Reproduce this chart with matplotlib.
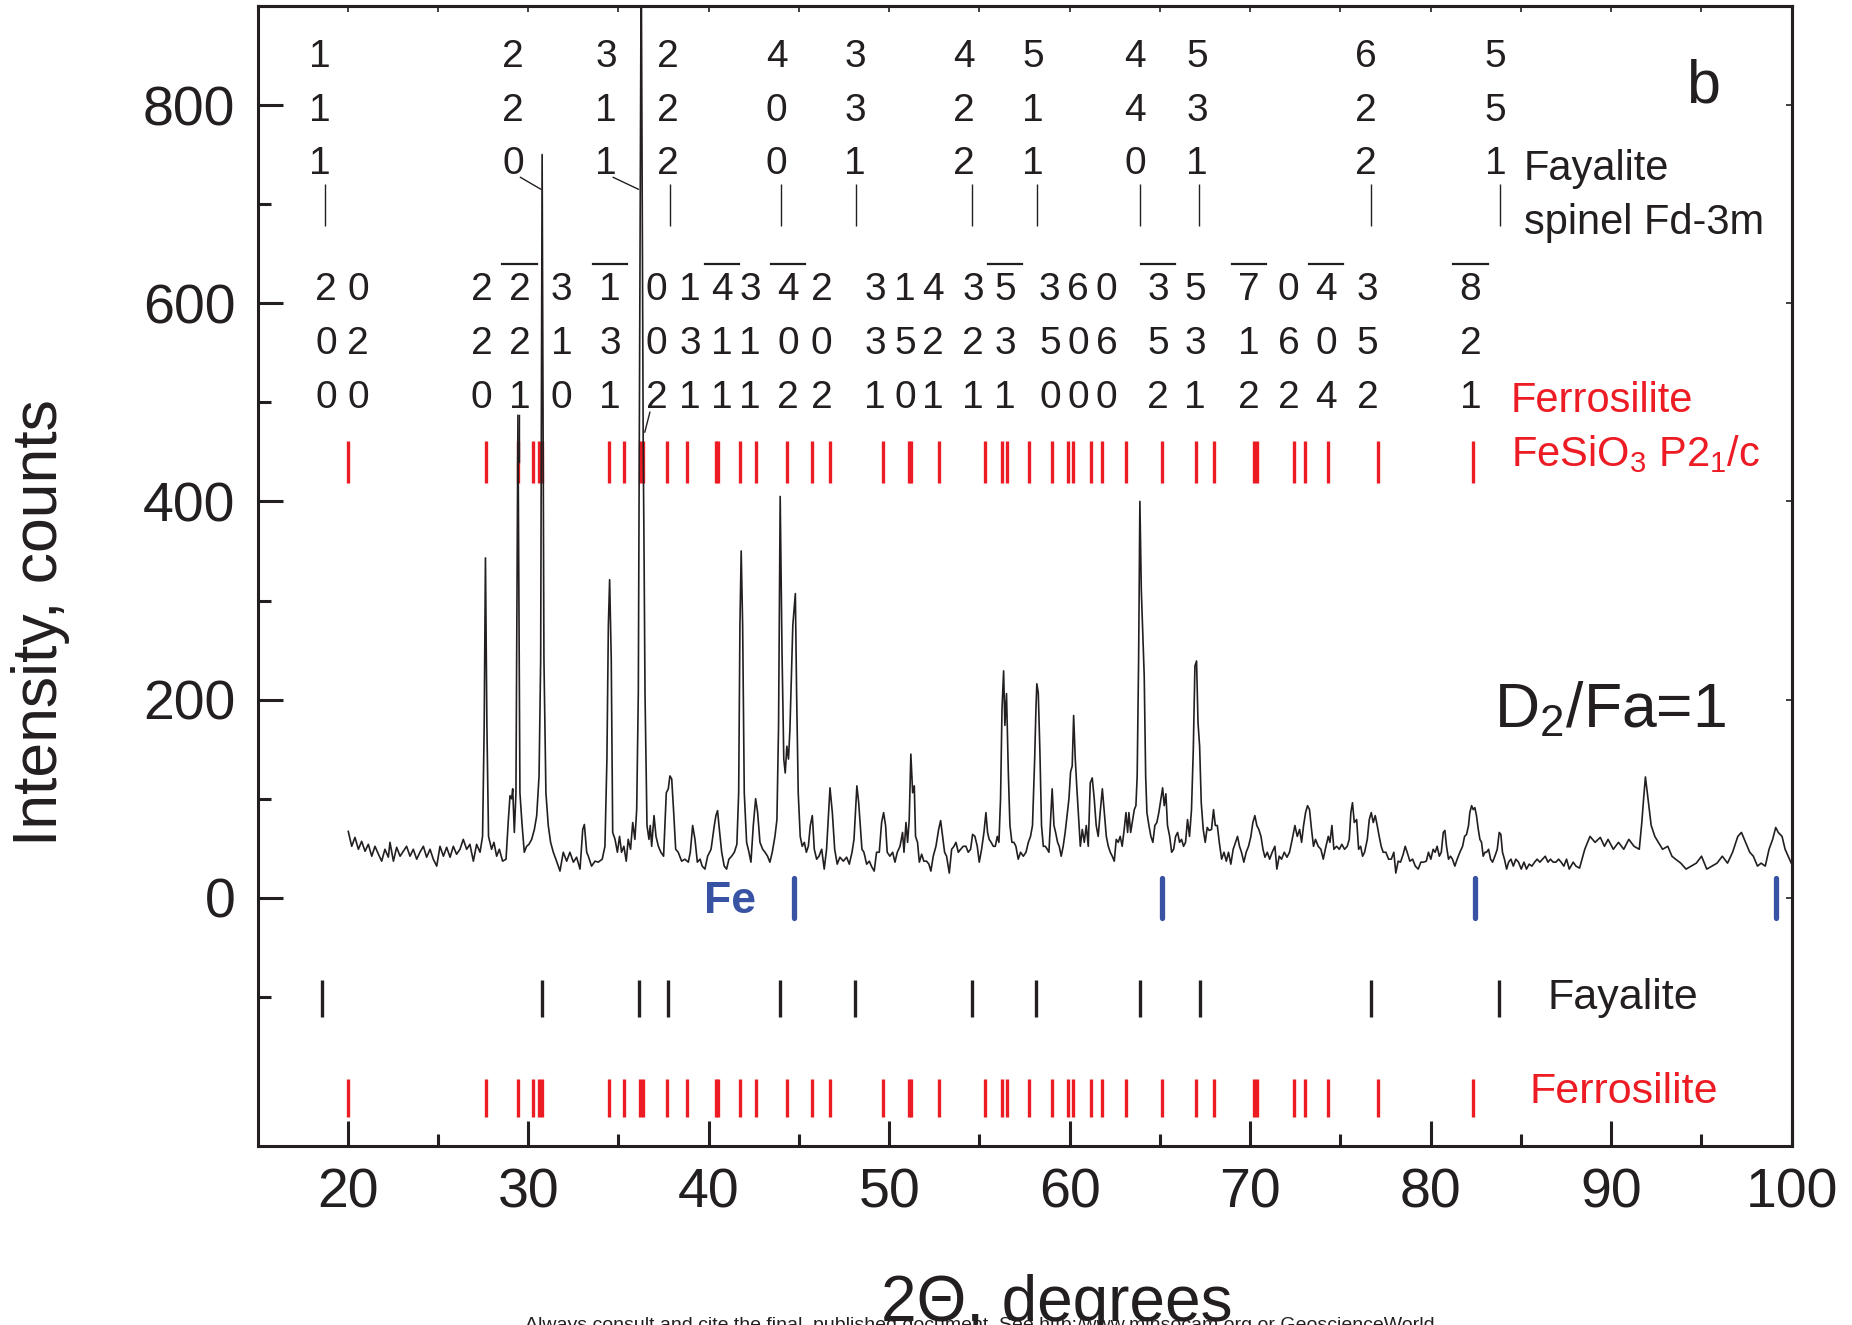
import numpy as np
import matplotlib
matplotlib.use('Agg')
import matplotlib.pyplot as plt
from matplotlib.ticker import FixedLocator, NullFormatter

plt.rcParams['font.family'] = ['Liberation Sans', 'DejaVu Sans']
plt.rcParams['mathtext.fontset'] = 'custom'
plt.rcParams['mathtext.rm'] = 'Liberation Sans'
plt.rcParams['mathtext.it'] = 'Liberation Sans:italic'

# ---------------- data ----------------
two_theta = [
    20.03, 20.22, 20.40, 20.59, 20.77, 20.96, 21.14, 21.33, 21.51, 21.70, 21.88, 22.06, 22.25, 22.34, 22.53,
    22.71, 22.90, 23.08, 23.26, 23.45, 23.63, 23.82, 24.00, 24.19, 24.37, 24.56, 24.74, 24.93, 25.11, 25.30,
    25.48, 25.67, 25.85, 26.03, 26.22, 26.40, 26.59, 26.77, 26.96, 27.14, 27.33, 27.47, 27.56, 27.63, 27.71,
    27.80, 27.97, 28.10, 28.25, 28.40, 28.58, 28.77, 28.90, 28.99, 29.08, 29.14, 29.23, 29.32, 29.43, 29.54,
    29.65, 29.78, 29.91, 30.04, 30.19, 30.34, 30.47, 30.60, 30.69, 30.77, 30.87, 30.98, 31.11, 31.24, 31.39,
    31.57, 31.76, 31.94, 32.13, 32.31, 32.50, 32.68, 32.87, 33.02, 33.11, 33.24, 33.33, 33.51, 33.70, 33.88,
    34.10, 34.25, 34.36, 34.44, 34.51, 34.60, 34.68, 34.81, 34.94, 35.06, 35.17, 35.30, 35.43, 35.54, 35.67,
    35.79, 35.91, 36.01, 36.10, 36.13, 36.16, 36.26, 36.37, 36.42, 36.47, 36.58, 36.69, 36.76, 36.84, 36.97,
    37.08, 37.21, 37.35, 37.50, 37.65, 37.76, 37.85, 37.95, 38.06, 38.17, 38.31, 38.50, 38.68, 38.87, 38.98,
    39.11, 39.24, 39.37, 39.52, 39.64, 39.79, 39.94, 40.13, 40.31, 40.40, 40.49, 40.59, 40.72, 40.86, 40.99,
    41.12, 41.27, 41.42, 41.56, 41.66, 41.73, 41.80, 41.88, 41.97, 42.10, 42.23, 42.34, 42.47, 42.60, 42.71,
    42.84, 42.99, 43.12, 43.26, 43.39, 43.52, 43.67, 43.78, 43.87, 43.96, 44.06, 44.16, 44.24, 44.33, 44.42,
    44.50, 44.58, 44.66, 44.80, 44.87, 44.96, 45.07, 45.18, 45.30, 45.41, 45.52, 45.63, 45.74, 45.85, 45.98,
    46.11, 46.26, 46.40, 46.53, 46.62, 46.72, 46.85, 46.98, 47.12, 47.27, 47.46, 47.64, 47.79, 47.94, 48.05,
    48.14, 48.21, 48.31, 48.40, 48.49, 48.60, 48.75, 48.90, 49.04, 49.17, 49.30, 49.45, 49.58, 49.69, 49.80,
    49.89, 50.04, 50.19, 50.32, 50.45, 50.60, 50.74, 50.82, 50.93, 51.02, 51.11, 51.20, 51.30, 51.39, 51.46,
    51.57, 51.67, 51.80, 51.92, 52.07, 52.20, 52.31, 52.44, 52.59, 52.74, 52.85, 52.96, 53.07, 53.18, 53.33,
    53.46, 53.59, 53.70, 53.83, 53.96, 54.10, 54.25, 54.38, 54.51, 54.62, 54.75, 54.88, 54.99, 55.12, 55.25,
    55.36, 55.45, 55.54, 55.65, 55.77, 55.88, 55.99, 56.08, 56.17, 56.25, 56.34, 56.41, 56.50, 56.60, 56.69,
    56.80, 56.91, 57.02, 57.15, 57.28, 57.43, 57.58, 57.71, 57.83, 57.94, 58.06, 58.13, 58.18, 58.26, 58.35,
    58.44, 58.54, 58.65, 58.76, 58.85, 58.94, 59.03, 59.13, 59.22, 59.33, 59.42, 59.53, 59.64, 59.75, 59.87,
    59.96, 60.05, 60.14, 60.22, 60.31, 60.40, 60.48, 60.59, 60.70, 60.81, 60.92, 61.03, 61.14, 61.25, 61.36,
    61.47, 61.58, 61.69, 61.81, 61.92, 62.03, 62.14, 62.25, 62.36, 62.47, 62.58, 62.69, 62.80, 62.91, 63.02,
    63.12, 63.21, 63.28, 63.38, 63.49, 63.58, 63.67, 63.74, 63.82, 63.89, 63.97, 64.06, 64.13, 64.21, 64.28,
    64.39, 64.50, 64.61, 64.72, 64.83, 64.94, 65.06, 65.15, 65.24, 65.33, 65.42, 65.54, 65.65, 65.76, 65.87,
    65.98, 66.09, 66.20, 66.31, 66.42, 66.53, 66.64, 66.75, 66.85, 66.94, 67.03, 67.11, 67.20, 67.29, 67.40,
    67.51, 67.62, 67.73, 67.86, 67.97, 68.07, 68.18, 68.29, 68.42, 68.55, 68.68, 68.80, 68.93, 69.06, 69.19,
    69.30, 69.41, 69.52, 69.65, 69.78, 69.91, 70.04, 70.15, 70.26, 70.37, 70.48, 70.60, 70.71, 70.82, 70.95,
    71.08, 71.22, 71.37, 71.48, 71.61, 71.74, 71.89, 72.04, 72.18, 72.33, 72.48, 72.61, 72.74, 72.85, 72.96,
    73.07, 73.18, 73.29, 73.40, 73.51, 73.62, 73.77, 73.92, 74.05, 74.20, 74.33, 74.42, 74.53, 74.64, 74.79,
    74.94, 75.08, 75.23, 75.38, 75.49, 75.58, 75.67, 75.77, 75.90, 76.01, 76.12, 76.23, 76.34, 76.49, 76.60,
    76.71, 76.82, 76.93, 77.04, 77.15, 77.26, 77.37, 77.52, 77.67, 77.82, 77.96, 78.07, 78.20, 78.33, 78.48,
    78.59, 78.70, 78.85, 79.00, 79.15, 79.31, 79.46, 79.61, 79.76, 79.88, 80.01, 80.14, 80.25, 80.36, 80.48,
    80.59, 80.70, 80.79, 80.88, 80.99, 81.10, 81.21, 81.34, 81.47, 81.62, 81.77, 81.88, 81.99, 82.10, 82.17,
    82.27, 82.36, 82.45, 82.54, 82.64, 82.73, 82.82, 82.91, 83.01, 83.10, 83.21, 83.32, 83.43, 83.56, 83.69,
    83.80, 83.89, 83.98, 84.09, 84.21, 84.32, 84.45, 84.58, 84.72, 84.87, 85.02, 85.17, 85.31, 85.46, 85.61,
    85.76, 85.90, 86.05, 86.20, 86.35, 86.50, 86.64, 86.79, 86.94, 87.09, 87.23, 87.38, 87.53, 87.68, 87.90,
    88.05, 88.25, 88.54, 88.83, 89.11, 89.40, 89.63, 89.83, 90.12, 90.41, 90.70, 90.98, 91.27, 91.56, 91.70,
    91.80, 91.90, 92.05, 92.22, 92.42, 92.62, 92.85, 93.14, 93.37, 93.57, 93.86, 94.15, 94.43, 94.72, 95.01,
    95.30, 95.58, 95.87, 96.16, 96.45, 96.73, 97.02, 97.22, 97.45, 97.68, 97.88, 98.11, 98.31, 98.54, 98.75,
    98.95, 99.12, 99.26, 99.47, 99.64, 99.81, 99.98,
]
intensity = [
    67, 52, 61, 49, 57, 47, 54, 42, 52, 44, 37, 49, 41, 56, 37,
    51, 42, 47, 52, 42, 49, 39, 46, 52, 41, 49, 39, 32, 52, 42,
    51, 41, 52, 44, 49, 59, 49, 54, 37, 54, 46, 62, 174, 343, 174,
    62, 49, 56, 42, 49, 37, 39, 79, 103, 100, 110, 66, 106, 487, 106,
    76, 46, 52, 54, 59, 69, 83, 123, 241, 750, 241, 106, 73, 56, 46,
    37, 27, 46, 37, 46, 36, 41, 29, 69, 74, 46, 42, 32, 37, 36,
    39, 52, 140, 275, 321, 241, 66, 59, 46, 62, 46, 52, 37, 59, 49,
    76, 59, 89, 207, 342, 460, 960, 460, 342, 207, 73, 59, 73, 52, 83,
    62, 52, 46, 42, 106, 110, 123, 120, 86, 49, 46, 37, 39, 36, 46,
    73, 59, 36, 39, 32, 29, 42, 49, 73, 83, 88, 69, 46, 32, 29,
    39, 42, 46, 54, 106, 275, 350, 275, 106, 56, 46, 36, 73, 100, 86,
    56, 49, 46, 42, 36, 46, 62, 79, 174, 405, 250, 140, 126, 153, 140,
    170, 221, 275, 307, 207, 106, 62, 52, 56, 46, 52, 73, 83, 49, 39,
    42, 49, 29, 49, 79, 111, 86, 49, 34, 41, 37, 41, 34, 46, 59,
    89, 113, 96, 73, 49, 46, 34, 37, 31, 27, 46, 46, 76, 86, 73,
    46, 42, 46, 36, 46, 52, 66, 46, 76, 56, 79, 145, 106, 113, 62,
    56, 36, 44, 37, 37, 34, 27, 42, 52, 69, 78, 62, 46, 42, 25,
    49, 52, 56, 46, 49, 52, 52, 46, 49, 64, 62, 52, 36, 49, 66,
    86, 66, 59, 56, 52, 52, 62, 56, 100, 190, 229, 174, 206, 127, 73,
    56, 56, 52, 39, 46, 42, 46, 56, 62, 73, 140, 190, 216, 207, 148,
    73, 52, 52, 49, 46, 79, 110, 73, 66, 56, 52, 42, 52, 66, 86,
    100, 127, 133, 184, 140, 110, 86, 52, 69, 56, 73, 52, 116, 121, 100,
    73, 62, 86, 110, 86, 62, 52, 46, 42, 37, 59, 56, 62, 52, 69,
    86, 66, 86, 66, 79, 89, 93, 123, 241, 400, 310, 261, 224, 123, 86,
    73, 62, 56, 73, 76, 86, 100, 111, 93, 105, 73, 62, 46, 49, 62,
    66, 56, 59, 52, 56, 79, 62, 89, 150, 234, 239, 177, 153, 96, 69,
    56, 71, 68, 69, 89, 73, 73, 56, 39, 46, 37, 46, 34, 49, 56,
    62, 52, 46, 36, 46, 52, 62, 76, 83, 73, 69, 62, 49, 41, 46,
    39, 46, 52, 29, 42, 39, 46, 41, 46, 59, 73, 62, 69, 56, 73,
    86, 93, 89, 69, 52, 59, 52, 49, 39, 52, 62, 56, 73, 49, 52,
    49, 54, 49, 52, 59, 86, 96, 76, 79, 49, 52, 42, 46, 59, 79,
    86, 76, 83, 73, 62, 52, 46, 46, 39, 39, 46, 25, 37, 36, 44,
    52, 46, 37, 39, 32, 29, 36, 36, 37, 46, 39, 49, 46, 52, 42,
    46, 66, 68, 52, 39, 42, 39, 32, 39, 46, 52, 62, 64, 73, 86,
    93, 89, 91, 83, 69, 59, 56, 42, 46, 46, 49, 39, 36, 42, 49,
    66, 64, 46, 39, 29, 36, 39, 32, 39, 36, 29, 36, 29, 34, 32,
    36, 39, 36, 39, 42, 36, 39, 36, 36, 39, 36, 32, 39, 29, 36,
    32, 30, 49, 62, 56, 61, 52, 59, 49, 56, 49, 59, 52, 49, 76,
    100, 122, 99, 73, 62, 56, 49, 52, 42, 39, 35, 29, 32, 35, 42,
    29, 32, 35, 42, 35, 46, 62, 66, 56, 46, 42, 32, 35, 32, 49,
    59, 71, 66, 62, 49, 42, 35,
]

# reference-pattern positions (2-theta, degrees)
spinel_hkl = ['111', '220', '311', '222', '400', '331', '422', '511', '440', '531', '622', '551']
spinel_label_x = [18.46, 29.17, 34.31, 37.72, 43.76, 48.10, 54.14, 57.98, 63.61, 67.07, 76.43, 83.60]
spinel_top_ticks = [18.72, 37.85, 43.99, 48.16, 54.58, 58.17, 63.89, 67.18, 76.72, 83.85]
fayalite_pos = [18.60, 30.75, 36.15, 37.75, 43.95, 48.10, 54.60, 58.15, 63.90, 67.20, 76.70, 83.80]

ferrosilite_pos = [20.03, 27.64, 29.45, 30.28, 30.61, 30.76, 34.47, 35.31, 36.19, 36.37, 37.67, 38.80,
                   40.38, 40.50, 41.73, 42.62, 44.35, 45.70, 46.72, 49.64, 51.11, 51.19, 52.77, 55.31,
                   56.26, 56.51, 57.76, 59.03, 59.92, 60.20, 61.16, 61.77, 63.10, 65.09, 66.98, 67.99,
                   70.22, 70.39, 72.44, 73.06, 74.30, 77.09, 82.36]
ferro_hkl = ['200', '020', '220', '-221', '310', '-131', '002', '131', '-411', '311', '-402', '202',
             '331', '150', '421', '321', '-531', '350', '600', '060', '-352', '531', '-712', '062',
             '-404', '352', '-821']
ferro_label_x = [18.80, 20.58, 27.42, 29.51, 31.85, 34.53, 37.12, 38.96, 40.72, 42.29, 44.41, 46.26,
                 49.21, 50.87, 52.44, 54.66, 56.41, 58.90, 60.47, 62.05, 64.91, 66.94, 69.95, 72.13,
                 74.20, 76.51, 82.21]

fe_pos = [44.75, 65.12, 82.45, 99.15]

x_major = [20, 30, 40, 50, 60, 70, 80, 90, 100]
x_minor = [25, 35, 45, 55, 65, 75, 85, 95]
y_major = [0, 200, 400, 600, 800]
y_minor = [-100, 100, 300, 500, 700]

RED = '#ed1c24'
BLUE = '#3953a4'
BLACK = '#231f20'

# ---------------- figure ----------------
fig = plt.figure(figsize=(18.52, 13.25), dpi=100)
ax = fig.add_axes([0.13904, 0.13540, 0.82835, 0.86015])
ax.set_xlim(15, 100)
ax.set_ylim(-250, 900)

ax.plot(two_theta, intensity, color=BLACK, lw=1.2, zorder=3)

# reference tick rows
ax.vlines(ferrosilite_pos, 419, 461, colors=RED, lw=2.4)
ax.vlines(ferrosilite_pos, -221, -183, colors=RED, lw=2.4)
ax.vlines(fayalite_pos, -120, -83, colors=BLACK, lw=2.4)
ax.vlines(spinel_top_ticks, 678, 720, colors=BLACK, lw=1.0)
fe_lines = ax.vlines(fe_pos, -20, 20, colors=BLUE, lw=3.8)
fe_lines.set_capstyle('round')

# spinel hkl labels
spinel_rows = [838, 784, 730]
for x, hkl in zip(spinel_label_x, spinel_hkl):
    for r, ch in zip(spinel_rows, hkl):
        ax.text(x, r, ch, ha='center', va='baseline', fontsize=28, color=BLACK)
# leader lines for 220 and 311 to their peaks
for lx, px in [(spinel_label_x[1], fayalite_pos[1]), (spinel_label_x[2], fayalite_pos[2])]:
    ax.plot([lx + 0.4, px - 0.05], [727, 715], color=BLACK, lw=1.0)

# ferrosilite hkl labels
ferro_rows = [603, 549, 494]
for x, hkl in zip(ferro_label_x, ferro_hkl):
    bar = hkl.startswith('-')
    digits = hkl.lstrip('-')
    for r, ch in zip(ferro_rows, digits):
        ax.text(x, r, ch, ha='center', va='baseline', fontsize=28, color=BLACK)
    if bar:
        ax.plot([x - 0.95, x + 0.95], [640, 640], color=BLACK, lw=1.6)
# small leaders
ax.plot([ferro_label_x[3], ferro_label_x[3]], [487, 440], color=BLACK, lw=1.0)
ax.plot([ferro_label_x[6] - 0.38, ferro_label_x[6] - 0.66], [490, 470], color=BLACK, lw=1.0)

# annotations
ax.text(94.14, 803, 'b', fontsize=44, color=BLACK, ha='left', va='baseline')
ax.text(85.15, 724, 'Fayalite', fontsize=30, color=BLACK, ha='left', va='baseline')
ax.text(85.15, 670, 'spinel Fd-3m', fontsize=30, color=BLACK, ha='left', va='baseline')
ax.text(84.43, 490, 'Ferrosilite', fontsize=30, color=RED, ha='left', va='baseline')
ax.text(84.43, 436, r'FeSiO$_\mathregular{3}$ P2$_\mathregular{1}$/c', fontsize=30, color=RED,
        ha='left', va='baseline')
ax.text(83.5, 172, r'D$_\mathregular{2}$/Fa=1', fontsize=45, color=BLACK, ha='left', va='baseline')
ax.text(39.74, -15, 'Fe', fontsize=32, fontweight='bold', color=BLUE, ha='left', va='baseline')
ax.text(86.45, -112, 'Fayalite', fontsize=31, color=BLACK, ha='left', va='baseline')
ax.text(85.5, -207, 'Ferrosilite', fontsize=31, color=RED, ha='left', va='baseline')

# axes styling
ax.xaxis.set_major_locator(FixedLocator(x_major))
ax.xaxis.set_minor_locator(FixedLocator(x_minor))
ax.yaxis.set_major_locator(FixedLocator(y_major))
ax.yaxis.set_minor_locator(FixedLocator(y_minor))
ax.tick_params(which='major', direction='in', length=18, width=2.2, labelsize=40, pad=16,
               color=BLACK, labelcolor=BLACK)
ax.tick_params(which='minor', direction='in', length=9, width=2.2, color=BLACK)
for s in ax.spines.values():
    s.set_linewidth(2.2)
    s.set_color(BLACK)

sx = ax.secondary_xaxis('top')
sx.xaxis.set_major_locator(FixedLocator(x_major + x_minor))
sx.xaxis.set_major_formatter(NullFormatter())
sx.tick_params(direction='in', length=4, width=1.2, color=BLACK)
sx.spines['top'].set_linewidth(2.2)
sy = ax.secondary_yaxis('right')
sy.yaxis.set_major_locator(FixedLocator(y_major))
sy.yaxis.set_major_formatter(NullFormatter())
sy.tick_params(direction='in', length=4, width=1.2, color=BLACK)
sy.spines['right'].set_linewidth(2.2)

fig.text(0.0221, 0.5298, 'Intensity, counts', rotation=90, ha='center', va='center',
         fontsize=45, color=BLACK)
fig.text(0.5707, 0.003, '2\u0398, degrees', ha='center', va='baseline', fontsize=46, color=BLACK)
fig.text(0.529, 0.006, 'Always consult and cite the final, published document. See http:/www.minsocam.org or GeoscienceWorld',
         ha='center', va='top', fontsize=14, color=BLACK)

fig.savefig('out.png', dpi=100)
